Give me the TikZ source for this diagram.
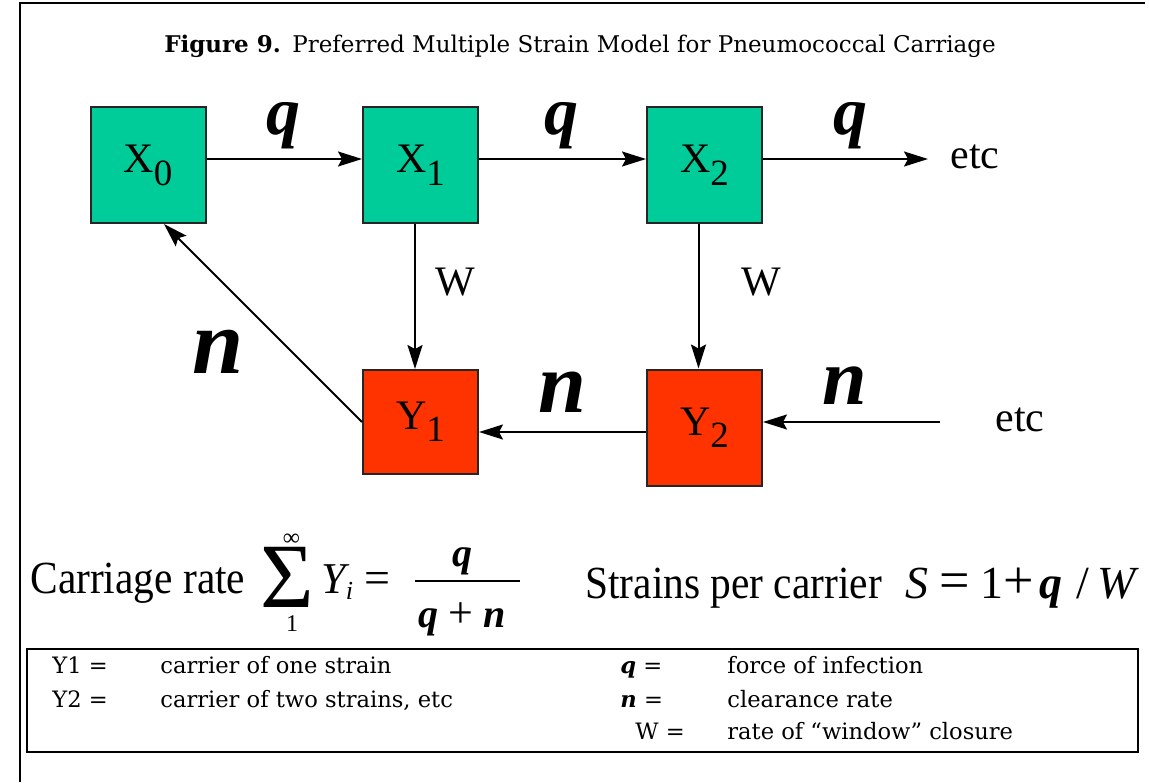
\documentclass[tikz,border=0pt]{standalone}
\usepackage{fontspec}
\setmainfont{Liberation Serif}
\newfontfamily\legfont{DejaVu Serif}
\usetikzlibrary{arrows.meta}
\definecolor{boxgreen}{RGB}{0,204,153}
\definecolor{boxred}{RGB}{255,51,0}
\newcommand{\narrow}[1]{\scalebox{0.9}[1]{#1}}
\begin{document}
\begin{tikzpicture}[x=0.5pt,y=-0.5pt,
  box/.style={draw=black!85, line width=1pt, minimum width=57.5pt, minimum height=58pt, inner sep=0pt, font=\fontsize{21}{21}\selectfont},
  xbox/.style={box, fill=boxgreen},
  ybox/.style={box, fill=boxred},
  arr/.style={line width=1pt, -{Stealth[length=12pt,width=7.5pt,inset=2pt]}},
  rate/.style={font=\fontsize{#1}{#1}\selectfont\bfseries\itshape, inner sep=0pt, anchor=base},
  lab/.style={font=\fontsize{21}{21}\selectfont, inner sep=0pt},
  frm/.style={font=\fontsize{23}{23}\selectfont, inner sep=0pt, anchor=base west},
  op/.style={font=\fontsize{27}{27}\selectfont, inner sep=0pt, anchor=base west},
  leg/.style={font=\legfont\fontsize{11.3}{11.3}\selectfont, inner sep=0pt, anchor=base west},
]
\useasboundingbox (0,0) rectangle (1149,782);
\fill[white] (0,0) rectangle (1149,782);
\draw[line width=1.25pt] (20,782) -- (20,3) -- (1145,3);

\node[anchor=base, inner sep=0pt, font=\legfont\fontsize{11.5}{11.5}\selectfont] (title) at (580,52)
  {\textbf{Figure 9.}\enspace Preferred Multiple Strain Model for Pneumococcal Carriage};

% boxes
\node[xbox] (X0) at (148,165) {X\raisebox{-6.5pt}{\fontsize{18.5}{18.5}\selectfont 0}};
\node[xbox] (X1) at (420.5,165) {X\raisebox{-6.5pt}{\fontsize{18.5}{18.5}\selectfont 1}};
\node[xbox] (X2) at (704.5,165) {X\raisebox{-6.5pt}{\fontsize{18.5}{18.5}\selectfont 2}};
\node[ybox, minimum height=52pt] (Y1) at (420.5,422) {Y\raisebox{-6pt}{\fontsize{18.5}{18.5}\selectfont 1}};
\node[ybox] (Y2) at (704.5,427.5) {Y\raisebox{-6pt}{\fontsize{18.5}{18.5}\selectfont 2}};

% etc labels
\node[lab, anchor=west] (etcA) at (950,157) {etc};
\node[lab, anchor=west] (etcB) at (995,420) {etc};
\coordinate (eB) at ([xshift=-27.5pt, yshift=-1pt]etcB.west);

% arrows
\draw[arr] ([yshift=3pt]X0.east) -- ([yshift=3pt]X1.west);
\draw[arr] ([yshift=3pt]X1.east) -- ([yshift=3pt]X2.west);
\draw[arr, shorten >=11pt] ([yshift=3pt]X2.east) -- ([yshift=3pt]X2.east -| etcA.west);
\draw[arr] ([xshift=-2.75pt]X1.south) -- ([xshift=-2.75pt]X1.south |- Y1.north);
\draw[arr] ([xshift=-3pt]X2.south) -- ([xshift=-3pt]X2.south |- Y2.north);
\draw[arr] ([yshift=-2.25pt]Y2.west) -- ([yshift=-2.25pt]Y2.west -| Y1.east);
\draw[arr] (eB) -- (eB -| Y2.east);
\draw[arr] (Y1.west) -- ([xshift=8pt]X0.south);

% rate labels
\node[rate=34] (q1) at (283,134) {q};
\node[rate=34] (q2) at (561,134) {q};
\node[rate=34] (q3) at (850,134) {q};
\node[rate=46] (n1) at (218,373) {n};
\node[rate=43] (n2) at (562,412) {n};
\node[rate=40] (n3) at (845,404) {n};
\node[lab] (W1) at (455,282) {W};
\node[lab] (W2) at (761,282) {W};

% carriage rate formula
\node[frm] (cr) at (30,593) {\narrow{Carriage rate}};
\node[inner sep=0pt, anchor=base, font=\fontsize{46}{46}\selectfont] (sig) at (287.5,607) {\smash{Σ}};
\node[inner sep=0pt, font=\fontsize{12}{12}\selectfont] (inf) at (291.5,540) {∞};
\node[inner sep=0pt, font=\fontsize{12}{12}\selectfont] (one) at (292,624) {1};
\node[frm, font=\fontsize{22}{22}\selectfont\itshape] (Yi) at (321,593) {Y\raisebox{-3pt}{\fontsize{13}{13}\selectfont i}};
\node[frm] (eq1) at (364,593) {=};
\node[rate=20] (num) at (462,566) {q};
\node[rate=20] (den) at (462,627) {q {\normalfont\fontsize{22}{22}\selectfont +} n};
\draw[line width=1.1pt] (415,581) -- (520,581);

% strains per carrier
\node[frm] (spc) at (585,598) {\narrow{Strains per carrier}};
\node[frm, font=\fontsize{23}{23}\selectfont\itshape] (S) at (905,598) {S};
\node[op] (eq2) at (939,598) {=};
\node[frm] (one2) at (980,598) {1};
\node[op] (plus) at (1003,598) {+};
\node[frm, font=\fontsize{23}{23}\selectfont\bfseries\itshape] (q4) at (1039,598) {q};
\node[frm] (slash) at (1076,598) {/};
\node[frm, font=\fontsize{23}{23}\selectfont\itshape] (W3) at (1097,598) {W};

% legend
\node[draw=black, line width=1pt, minimum width=555.5pt, minimum height=51.5pt, inner sep=0pt, anchor=north west] (legend) at (26,648) {};
\node[leg] (l1a) at (52,673) {Y1 =};
\node[leg] (l1b) at (160,673) {carrier of one strain};
\node[leg] (l2a) at (52,707) {Y2 =};
\node[leg] (l2b) at (160,707) {carrier of two strains, etc};
\node[leg] (l3a) at (620,673) {\textbf{\textit{q}} =};
\node[leg] (l3b) at (727,673) {force of infection};
\node[leg] (l4a) at (620,707) {\textbf{\textit{n}} =};
\node[leg] (l4b) at (727,707) {clearance rate};
\node[leg] (l5a) at (635,739) {W =};
\node[leg] (l5b) at (727,739) {rate of “window” closure};
\end{tikzpicture}
\end{document}
